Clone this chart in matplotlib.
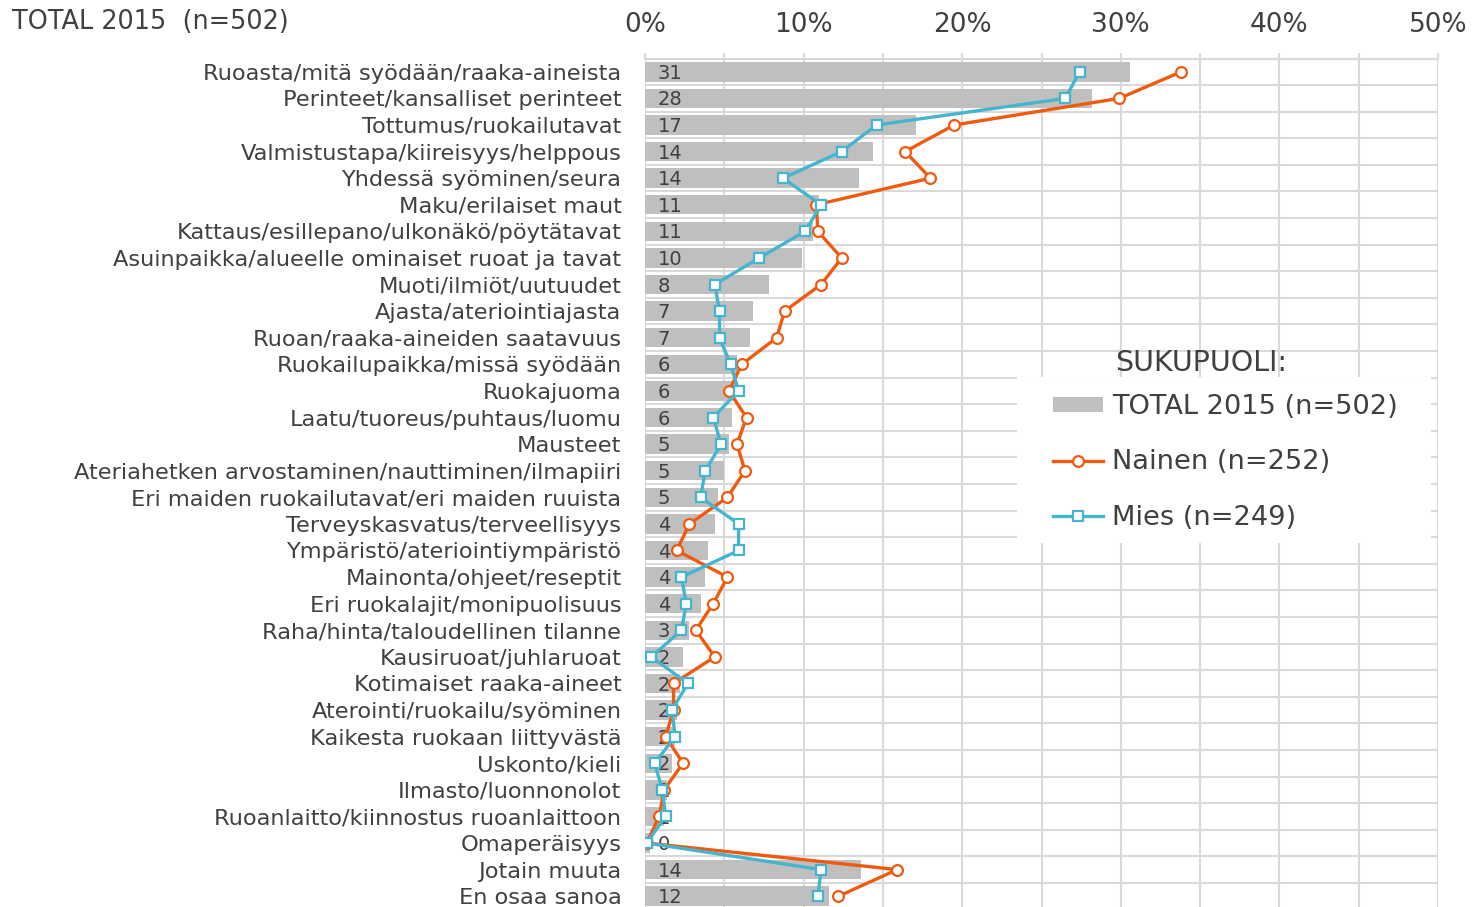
import matplotlib
matplotlib.use("Agg")
import matplotlib.pyplot as plt
from matplotlib.patches import Rectangle
from matplotlib.lines import Line2D
from matplotlib.patches import Patch
import numpy as np

categories = [
    "Ruoasta/mitä syödään/raaka-aineista",
    "Perinteet/kansalliset perinteet",
    "Tottumus/ruokailutavat",
    "Valmistustapa/kiireisyys/helppous",
    "Yhdessä syöminen/seura",
    "Maku/erilaiset maut",
    "Kattaus/esillepano/ulkonäkö/pöytätavat",
    "Asuinpaikka/alueelle ominaiset ruoat ja tavat",
    "Muoti/ilmiöt/uutuudet",
    "Ajasta/ateriointiajasta",
    "Ruoan/raaka-aineiden saatavuus",
    "Ruokailupaikka/missä syödään",
    "Ruokajuoma",
    "Laatu/tuoreus/puhtaus/luomu",
    "Mausteet",
    "Ateriahetken arvostaminen/nauttiminen/ilmapiiri",
    "Eri maiden ruokailutavat/eri maiden ruuista",
    "Terveyskasvatus/terveellisyys",
    "Ympäristö/ateriointiympäristö",
    "Mainonta/ohjeet/reseptit",
    "Eri ruokalajit/monipuolisuus",
    "Raha/hinta/taloudellinen tilanne",
    "Kausiruoat/juhlaruoat",
    "Kotimaiset raaka-aineet",
    "Aterointi/ruokailu/syöminen",
    "Kaikesta ruokaan liittyvästä",
    "Uskonto/kieli",
    "Ilmasto/luonnonolot",
    "Ruoanlaitto/kiinnostus ruoanlaittoon",
    "Omaperäisyys",
    "Jotain muuta",
    "En osaa sanoa",
]

total_2015 = [30.6, 28.2, 17.1, 14.4, 13.5, 11.0, 10.6, 9.9, 7.8, 6.8, 6.6, 5.8,
              5.7, 5.5, 5.3, 5.0, 4.6, 4.4, 4.0, 3.8, 3.5, 2.8, 2.4, 2.2, 2.0,
              1.9, 1.7, 1.4, 1.2, 0.3, 13.6, 11.6]
bar_labels = ["31", "28", "17", "14", "14", "11", "11", "10", "8", "7", "7", "6",
              "6", "6", "5", "5", "5", "4", "4", "4", "4", "3", "2", "2", "2",
              "2", "2", "1", "1", "0", "14", "12"]
nainen = [33.8, 29.9, 19.5, 16.4, 18.0, 10.8, 10.9, 12.4, 11.1, 8.8, 8.3, 6.1,
          5.3, 6.4, 5.8, 6.3, 5.2, 2.8, 2.0, 5.2, 4.3, 3.2, 4.4, 1.8, 1.8,
          1.3, 2.4, 1.2, 0.9, 0.1, 15.9, 12.2]
mies = [27.4, 26.5, 14.6, 12.4, 8.7, 11.1, 10.1, 7.2, 4.4, 4.7, 4.7, 5.4,
        5.9, 4.3, 4.8, 3.8, 3.5, 5.9, 5.9, 2.3, 2.6, 2.3, 0.4, 2.7, 1.7,
        1.9, 0.6, 1.1, 1.3, 0.1, 11.1, 10.9]
x_ticks = [0, 10, 20, 30, 40, 50]
x_tick_labels = ["0%", "10%", "20%", "30%", "40%", "50%"]

TXT = "#404040"
GRID = "#D9D9D9"
BAR = "#BFBFBF"
ORANGE = "#F05A0F"
BLUE = "#45B5CF"

W, H = 1472, 907
fig = plt.figure(figsize=(W / 100, H / 100), dpi=100)
ax = fig.add_axes([645 / W, 1 - 909.5 / H, (1438 - 645) / W, 851 / H])

y = np.arange(len(categories))
ax.barh(y, total_2015, height=0.73, color=BAR, zorder=2)
for yi, lab in zip(y, bar_labels):
    ax.text(0.8, yi + 0.06, lab, va="center", ha="left", fontsize=14, color=TXT, zorder=3)

ax.plot(nainen, y, color=ORANGE, lw=2.4, marker="o", ms=7.8, mfc="white",
        mec=ORANGE, mew=1.6, zorder=4, label="Nainen (n=252)")
ax.plot(mies, y, color=BLUE, lw=2.4, marker="s", ms=7.4, mfc="white",
        mec=BLUE, mew=1.6, zorder=5, label="Mies (n=249)")

ax.set_ylim(len(categories) - 0.5, -0.5)
ax.set_xlim(0, 50)
ax.set_yticks(y)
ax.set_yticklabels(categories, fontsize=16.2, color=TXT)
ax.set_yticks(np.arange(-0.5, len(categories), 1), minor=True)
ax.tick_params(axis="y", which="both", length=0, pad=17)

ax.xaxis.tick_top()
ax.set_xticks(x_ticks)
ax.set_xticklabels(x_tick_labels, fontsize=19, color=TXT)
ax.set_xticks(np.arange(5, 50, 10), minor=True)
ax.tick_params(axis="x", which="both", direction="out", length=4, width=1.5,
               color=GRID, pad=11)

ax.grid(axis="x", which="both", color=GRID, lw=1.5, zorder=0)
ax.grid(axis="y", which="minor", color=GRID, lw=1.5, zorder=0)
ax.set_axisbelow(True)
for s in ["left", "right", "bottom"]:
    ax.spines[s].set_visible(False)
ax.spines["top"].set_color(GRID)
ax.spines["top"].set_linewidth(1.5)

# Legend area
fig.patches.append(Rectangle((1017 / W, 1 - 543 / H), (1431 - 1017) / W, (543 - 377) / H,
                             transform=fig.transFigure, facecolor="white",
                             edgecolor="none", zorder=1))
fig.text(1115 / W, 1 - 363 / H, "SUKUPUOLI:", fontsize=20.5, color=TXT, va="center", ha="left")
handles = [Patch(facecolor=BAR, edgecolor="none", label="TOTAL 2015 (n=502)"),
           Line2D([], [], color=ORANGE, lw=2.4, marker="o", ms=7.8, mfc="white",
                  mec=ORANGE, mew=1.6, label="Nainen (n=252)"),
           Line2D([], [], color=BLUE, lw=2.4, marker="s", ms=7.4, mfc="white",
                  mec=BLUE, mew=1.6, label="Mies (n=249)")]
leg = fig.legend(handles=handles, loc="upper left",
                 bbox_to_anchor=(1053 / W, 1 - 394 / H), frameon=False,
                 fontsize=19.6, labelcolor=TXT, handlelength=1.85, handleheight=0.45,
                 handletextpad=0.33, labelspacing=1.08, borderpad=0, borderaxespad=0)
leg.set_zorder(6)

fig.text(12 / W, 1 - 22 / H, "TOTAL 2015  (n=502)", fontsize=18.4, color=TXT,
         va="center", ha="left")

fig.savefig("out.png", dpi=100)
